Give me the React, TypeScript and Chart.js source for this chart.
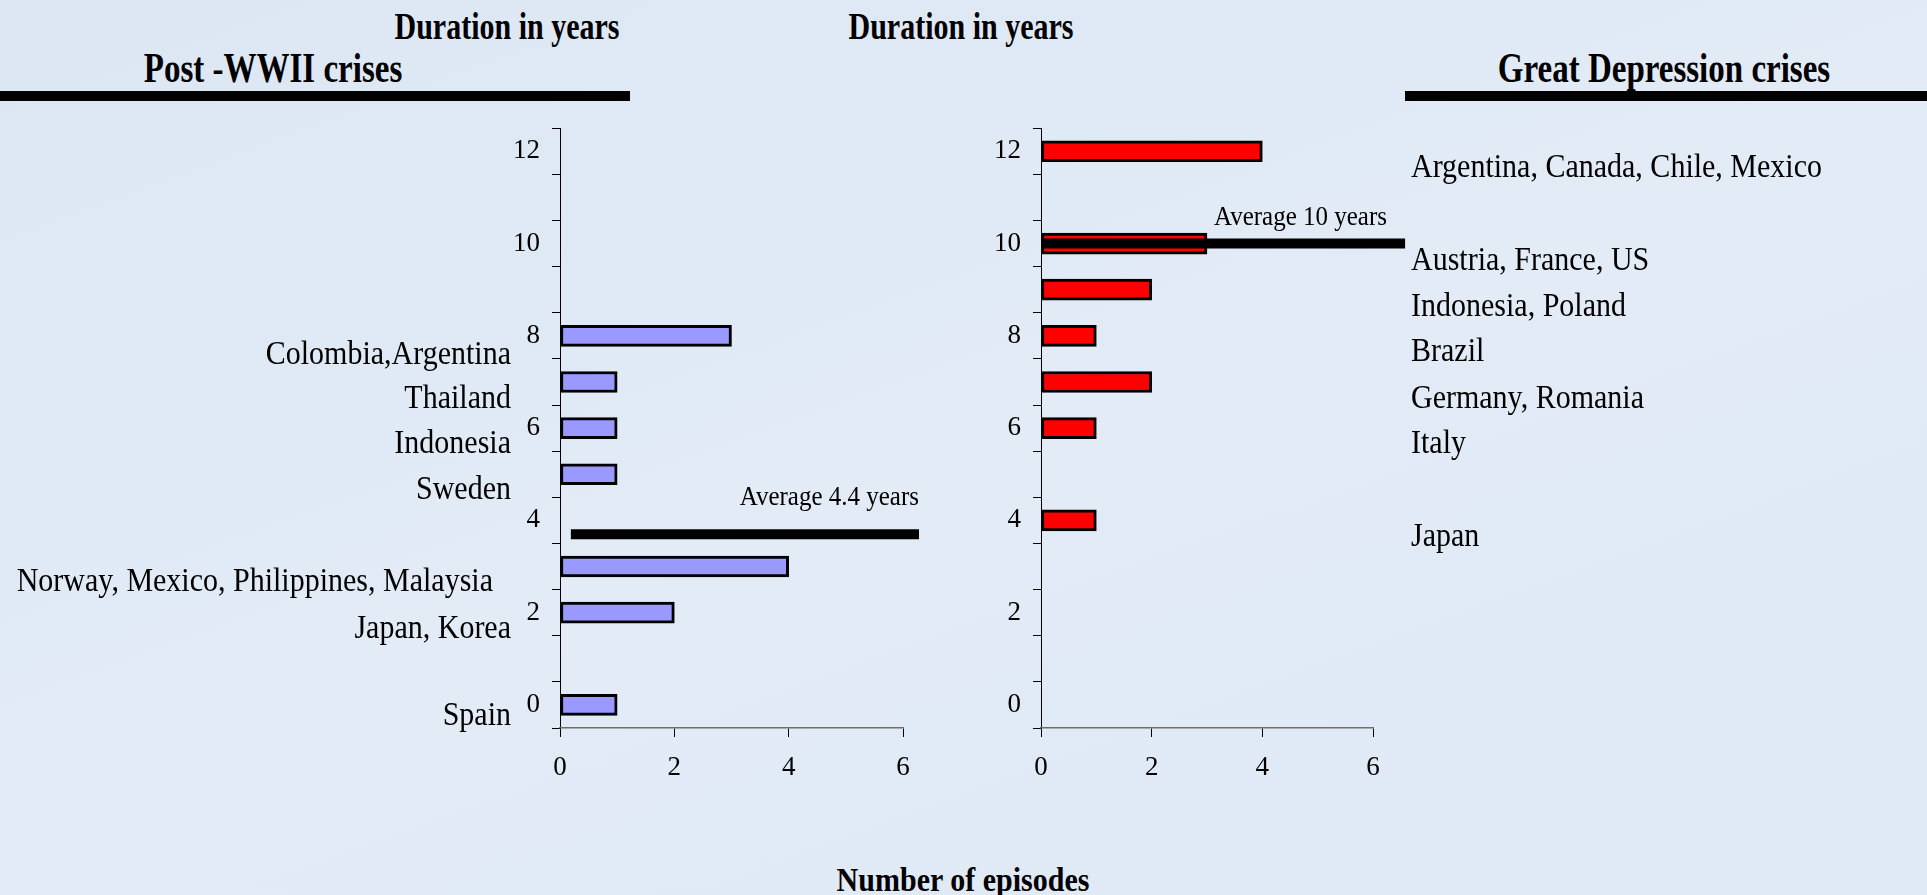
import React, { useEffect, useRef } from 'react';
import { Chart, registerables } from 'chart.js';

Chart.register(...registerables);

// ---- data ----
const durationLabels = ['0', '1', '2', '3', '4', '5', '6', '7', '8', '9', '10', '11', '12'];
const postWWIIEpisodes = [1, null, 2, 4, null, 1, 1, 1, 3, null, null, null, null];
const greatDepressionEpisodes = [null, null, null, null, 1, null, 1, 2, 1, 2, 3, null, 4];
const episodeTickMax = 6;
const episodeTickStep = 2;

const postWWIIAverageDuration = 3.7; // where the average line sits on the duration axis
const postWWIIAverageSpan = [0.19, 6.28]; // in episodes
const postWWIIAverageText = 'Average 4.4 years';

const greatDepressionAverageDuration = 10;
const greatDepressionAverageSpan = [0, 6.58];
const greatDepressionAverageText = 'Average 10 years';

const postWWIICountries = [
  'Colombia,Argentina',
  'Thailand',
  'Indonesia',
  'Sweden',
  'Norway, Mexico, Philippines, Malaysia',
  'Japan, Korea',
  'Spain',
];
const greatDepressionCountries = [
  'Argentina, Canada, Chile, Mexico',
  'Austria, France, US',
  'Indonesia, Poland',
  'Brazil',
  'Germany, Romania',
  'Italy',
  'Japan',
];

// ---- layout (positions only) ----
const leftLabelY = [353, 397, 442, 488, 580, 627, 714];
const leftLabelRight = [511, 511, 511, 511, 493, 511, 511];
const rightLabelY = [166, 259, 305, 350, 397, 442, 535];

const FONT = '"Liberation Serif", "Times New Roman", serif';
const STRETCH = 1.1;

const avgLinePlugin = {
  id: 'avgLine',
  afterDatasetsDraw(chart: any, _args: any, opts: any) {
    const { ctx } = chart;
    const x = chart.scales.x;
    const y = chart.scales.y;
    const py = y.getPixelForValue(opts.value);
    ctx.save();
    ctx.strokeStyle = '#000';
    ctx.lineWidth = opts.width;
    ctx.lineCap = 'butt';
    ctx.beginPath();
    ctx.moveTo(x.getPixelForValue(opts.from), py);
    ctx.lineTo(x.getPixelForValue(opts.to), py);
    ctx.stroke();
    ctx.restore();
  },
};

type PanelProps = {
  left: number;
  top: number;
  width: number;
  height: number;
  yWidth: number;
  padTop: number;
  padRight: number;
  xHeight: number;
  values: (number | null)[];
  color: string;
  avgValue: number;
  avgSpan: number[];
};

function BarPanel(p: PanelProps) {
  const ref = useRef<HTMLCanvasElement>(null);
  useEffect(() => {
    if (!ref.current) return;
    const chart = new Chart(ref.current, {
      type: 'bar',
      data: {
        labels: durationLabels,
        datasets: [
          {
            data: p.values as any,
            backgroundColor: p.color,
            borderColor: '#000',
            borderWidth: 3,
            borderSkipped: false,
            barThickness: 21,
          },
        ],
      },
      options: {
        indexAxis: 'y',
        responsive: false,
        animation: false,
        layout: { padding: { top: p.padTop, right: p.padRight, left: 0, bottom: 0 } },
        plugins: {
          legend: { display: false },
          tooltip: { enabled: false },
          avgLine: { value: p.avgValue, from: p.avgSpan[0], to: p.avgSpan[1], width: 10 },
        } as any,
        scales: {
          y: {
            type: 'category',
            reverse: true,
            offset: true,
            afterFit: (s: any) => {
              s.width = p.yWidth;
            },
            grid: {
              display: true,
              offset: true,
              drawOnChartArea: false,
              drawTicks: true,
              tickLength: 8,
              color: '#000',
            },
            border: { display: true, color: '#000', width: 1 },
            ticks: {
              autoSkip: false,
              padding: 12,
              color: '#000',
              font: { family: FONT, size: 27 },
              callback: (_v: any, i: number) => (i % 2 === 0 ? durationLabels[i] : ''),
            },
          },
          x: {
            type: 'linear',
            min: 0,
            max: episodeTickMax,
            afterFit: (s: any) => {
              s.height = p.xHeight;
            },
            grid: {
              display: true,
              drawOnChartArea: false,
              drawTicks: true,
              tickLength: 9,
              color: '#000',
            },
            border: { display: true, color: '#6e6e6e', width: 1.5 },
            ticks: {
              stepSize: episodeTickStep,
              padding: 15,
              color: '#000',
              font: { family: FONT, size: 27 },
            },
          },
        },
      },
      plugins: [avgLinePlugin],
    });
    return () => chart.destroy();
  }, []);
  return (
    <canvas
      ref={ref}
      width={p.width}
      height={p.height}
      style={{ position: 'absolute', left: p.left, top: p.top, width: p.width, height: p.height }}
    />
  );
}

function Text(props: {
  x: number;
  y: number;
  anchor: 'left' | 'center' | 'right';
  size: number;
  bold?: boolean;
  stretch?: number;
  children: React.ReactNode;
}) {
  const tx = props.anchor === 'left' ? '0%' : props.anchor === 'center' ? '-50%' : '-100%';
  return (
    <div
      style={{
        position: 'absolute',
        left: props.x,
        top: props.y,
        transform: `translate(${tx}, -50%) scaleY(${props.stretch ?? STRETCH})`,
        fontFamily: FONT,
        fontSize: props.size,
        fontWeight: props.bold ? 'bold' : 'normal',
        lineHeight: 1,
        whiteSpace: 'nowrap',
        color: '#000',
      }}
    >
      {props.children}
    </div>
  );
}

export default function App() {
  return (
    <div
      style={{
        position: 'absolute',
        left: 0,
        top: 0,
        width: 1927,
        height: 895,
        overflow: 'hidden',
        background: 'linear-gradient(160deg, #dce7f3 0%, #e2ebf6 50%, #dfe9f5 100%)',
      }}
    >
      <Text x={507} y={26} anchor="center" size={30} bold stretch={1.25}>Duration in years</Text>
      <Text x={961} y={26} anchor="center" size={30} bold stretch={1.25}>Duration in years</Text>
      <Text x={273} y={69} anchor="center" size={33} bold stretch={1.25}>Post -WWII crises</Text>
      <Text x={1664} y={69} anchor="center" size={33} bold stretch={1.25}>Great Depression crises</Text>
      <div style={{ position: 'absolute', left: 0, top: 91, width: 630, height: 10, background: '#000' }} />
      <div style={{ position: 'absolute', left: 1405, top: 91, width: 522, height: 10, background: '#000' }} />

      <BarPanel
        left={470}
        top={100}
        width={480}
        height={700}
        yWidth={90}
        padTop={24}
        padRight={47}
        xHeight={72}
        values={postWWIIEpisodes}
        color="#9999ff"
        avgValue={postWWIIAverageDuration}
        avgSpan={postWWIIAverageSpan}
      />
      <BarPanel
        left={950}
        top={100}
        width={500}
        height={700}
        yWidth={91}
        padTop={28}
        padRight={77}
        xHeight={72}
        values={greatDepressionEpisodes}
        color="#ff0000"
        avgValue={greatDepressionAverageDuration}
        avgSpan={greatDepressionAverageSpan}
      />

      <Text x={919} y={496} anchor="right" size={25}>{postWWIIAverageText}</Text>
      <Text x={1387} y={216} anchor="right" size={25}>{greatDepressionAverageText}</Text>

      {postWWIICountries.map((c, i) => (
        <Text key={'l' + i} x={leftLabelRight[i]} y={leftLabelY[i]} anchor="right" size={30}>
          {c}
        </Text>
      ))}
      {greatDepressionCountries.map((c, i) => (
        <Text key={'r' + i} x={1411} y={rightLabelY[i]} anchor="left" size={30}>
          {c}
        </Text>
      ))}

      <Text x={963} y={880} anchor="center" size={30} bold stretch={1.1}>Number of episodes</Text>
    </div>
  );
}
